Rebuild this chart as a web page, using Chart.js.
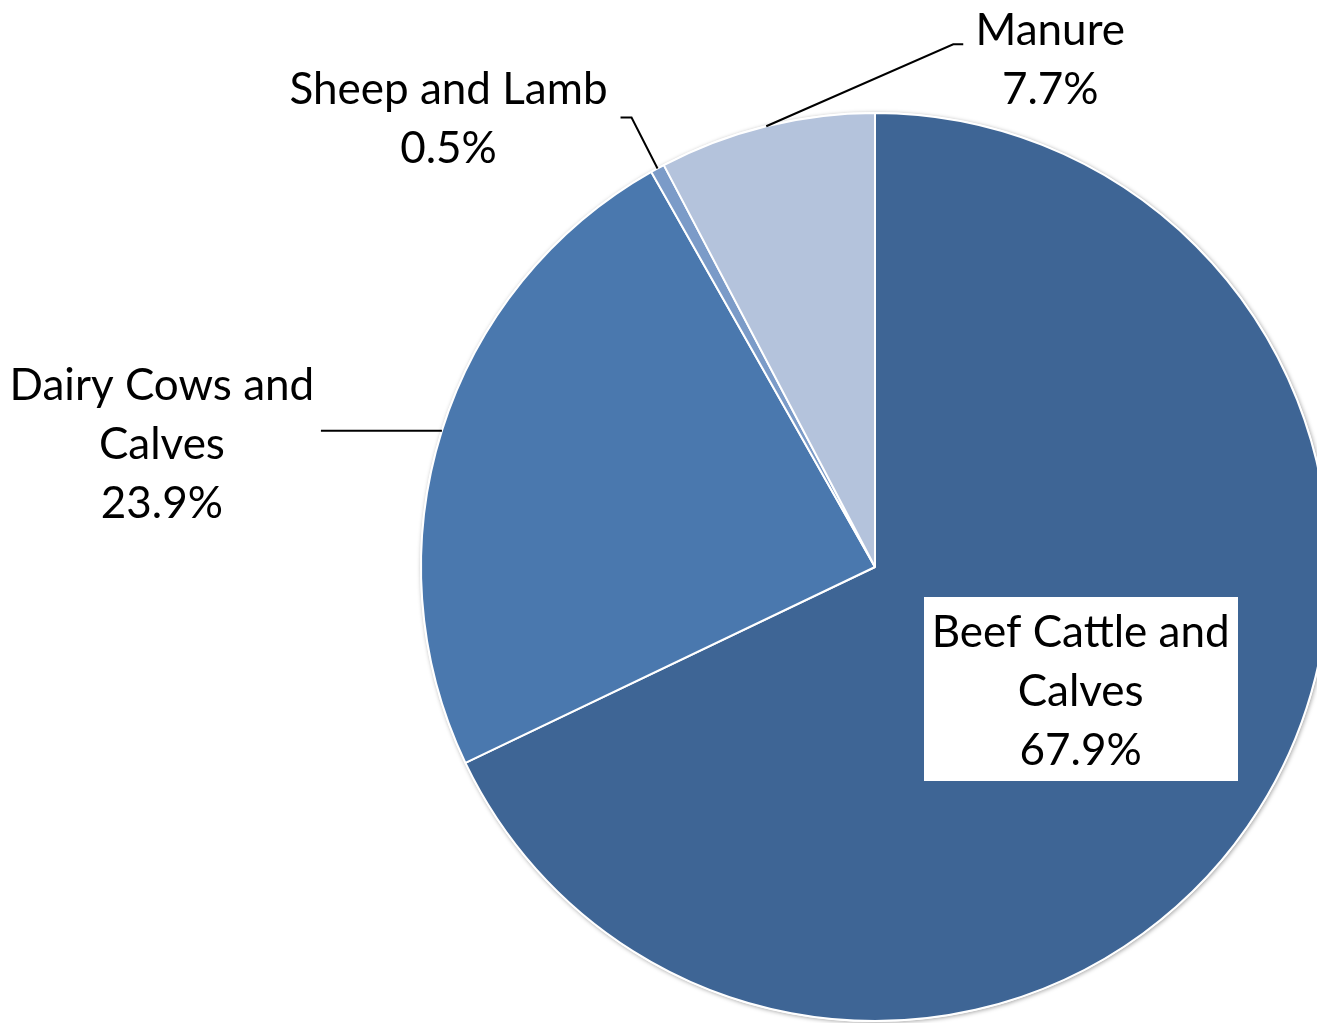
<!DOCTYPE html>
<html>
<head>
<meta charset="utf-8">
<script src="https://cdn.jsdelivr.net/npm/chart.js@4.4.1/dist/chart.umd.min.js"></script>
<style>
  html, body { margin: 0; padding: 0; background: #fff; overflow: hidden; }
  #wrap { width: 1340px; height: 1023px; }
</style>
</head>
<body>
<div id="wrap"><canvas id="pieChart" width="1340" height="1023"></canvas></div>
<script>
// livestock shares, clockwise from 12 o'clock
const categories = ["Beef Cattle and Calves", "Dairy Cows and Calves", "Sheep and Lamb", "Manure"];
const labelLines = [["Beef Cattle and", "Calves"], ["Dairy Cows and", "Calves"], ["Sheep and Lamb"], ["Manure"]];
const shares = [67.9, 23.9, 0.5, 7.7];
const sliceColors = ["#3e6595", "#4a78ae", "#7b9bc8", "#b4c3dc"];

// where each label sits, relative to the slice's anchor on the rim (or inside it)
const labelLayout = [
  { inside: true, radial: 0.525, dx: 4, dy: -5, boxW: 314, boxH: 184, baseline: -42 },
  { leader: [[-121, 0]], textDx: -280, baseline: -31 },
  { leader: [[-26, -51], [-37, -51]], textDx: -209, baseline: -64 },
  { leader: [[187, -82], [197, -82]], textDx: 284, baseline: -81 }
];

const FONT = "44px Lato, 'Open Sans', sans-serif";
const LINE_H = 59;

const rimShadow = {
  id: "rimShadow",
  beforeDatasetsDraw(chart) {
    const arc = chart.getDatasetMeta(0).data[0];
    if (!arc) return;
    const ctx = chart.ctx;
    ctx.save();
    ctx.beginPath();
    ctx.arc(arc.x, arc.y, arc.outerRadius + 1, 0, Math.PI * 2);
    ctx.fillStyle = "#fff";
    ctx.shadowColor = "rgba(0,0,0,0.35)";
    ctx.shadowBlur = 4;
    ctx.shadowOffsetX = 1;
    ctx.shadowOffsetY = 1;
    ctx.fill();
    ctx.restore();
  }
};

const sliceLabels = {
  id: "sliceLabels",
  afterDatasetsDraw(chart) {
    const ctx = chart.ctx;
    const arcs = chart.getDatasetMeta(0).data;
    ctx.save();
    ctx.font = FONT;
    ctx.textAlign = "center";
    ctx.textBaseline = "alphabetic";
    arcs.forEach((arc, i) => {
      const lay = labelLayout[i];
      const mid = (arc.startAngle + arc.endAngle) / 2;
      const lines = labelLines[i].concat(shares[i].toFixed(1) + "%");

      if (lay.inside) {
        const cx = arc.x + Math.cos(mid) * arc.outerRadius * lay.radial + lay.dx;
        const cy = arc.y + Math.sin(mid) * arc.outerRadius * lay.radial + lay.dy;
        ctx.fillStyle = "#fff";
        ctx.fillRect(Math.round(cx - lay.boxW / 2), Math.round(cy - lay.boxH / 2), lay.boxW, lay.boxH);
        ctx.fillStyle = "#000";
        lines.forEach((t, k) => ctx.fillText(t, cx, cy + lay.baseline + k * LINE_H));
        return;
      }

      const ax = arc.x + Math.cos(mid) * arc.outerRadius;
      const ay = arc.y + Math.sin(mid) * arc.outerRadius;
      ctx.strokeStyle = "#000";
      ctx.lineWidth = 2;
      ctx.beginPath();
      ctx.moveTo(ax, ay);
      lay.leader.forEach(p => ctx.lineTo(ax + p[0], ay + p[1]));
      ctx.stroke();

      ctx.fillStyle = "#000";
      lines.forEach((t, k) => ctx.fillText(t, ax + lay.textDx, ay + lay.baseline + k * LINE_H));
    });
    ctx.restore();
  }
};

new Chart(document.getElementById("pieChart"), {
  type: "pie",
  data: {
    labels: categories,
    datasets: [{
      data: shares,
      backgroundColor: sliceColors,
      borderColor: "#fff",
      borderWidth: 2
    }]
  },
  options: {
    responsive: false,
    animation: false,
    radius: 454,
    layout: { padding: { left: 421, right: 11, top: 113, bottom: 2 } },
    plugins: {
      legend: { display: false },
      tooltip: { enabled: false }
    }
  },
  plugins: [rimShadow, sliceLabels]
});
</script>
</body>
</html>
